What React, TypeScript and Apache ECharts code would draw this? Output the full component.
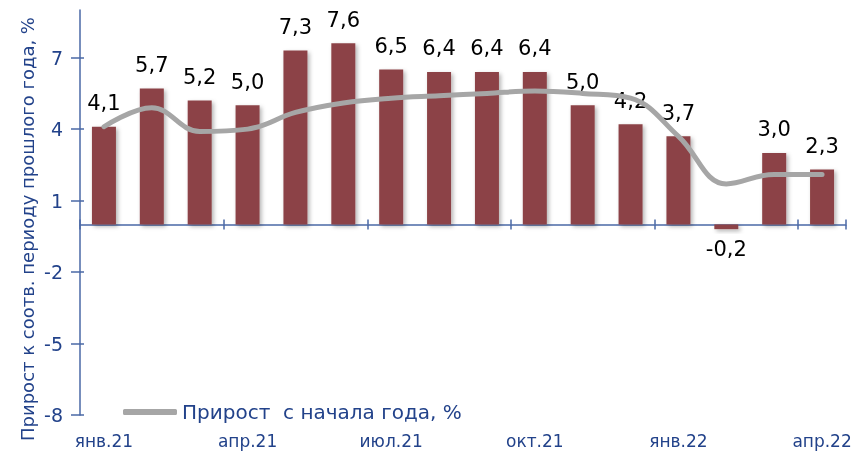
import React, { useEffect, useRef } from "react";
import * as echarts from "echarts";

const categories = [
  "янв.21", "фев.21", "мар.21", "апр.21", "май.21", "июн.21", "июл.21", "авг.21",
  "сен.21", "окт.21", "ноя.21", "дек.21", "янв.22", "фев.22", "мар.22", "апр.22",
];
const yoyValues = [4.1, 5.7, 5.2, 5.0, 7.3, 7.6, 6.5, 6.4, 6.4, 6.4, 5.0, 4.2, 3.7, -0.2, 3.0, 2.3];
const ytdValues = [4.1, 4.9, 3.9, 4.0, 4.7, 5.1, 5.3, 5.4, 5.5, 5.6, 5.5, 5.3, 3.7, 1.7, 2.1, 2.1];
const yTicks = [-8, -5, -2, 1, 4, 7];
const yMin = -8;
const yMax = 9;
const lineName = "Прирост  с начала года, %";
const yAxisTitle = "Прирост к соотв. периоду прошлого года, %";

const BLUE_TEXT = "#22428a";
const AXIS = "#4a68a6";
const FONT = "'DejaVu Sans', Verdana, sans-serif";

export default function App() {
  const ref = useRef<HTMLDivElement>(null);
  useEffect(() => {
    if (!ref.current) return;
    const chart = echarts.init(ref.current, undefined, { renderer: "svg" });
    const fmt = (v: number) => v.toFixed(1).replace(".", ",");
    chart.setOption({
      animation: false,
      grid: { left: 80, right: 12, top: 10, bottom: 37, containLabel: false },
      legend: {
        left: 118,
        top: 397,
        data: [{ name: lineName, icon: "roundRect" }],
        itemWidth: 54,
        itemHeight: 6,
        textStyle: { color: BLUE_TEXT, fontSize: 20, fontFamily: FONT },
      },
      xAxis: [
        {
          type: "category",
          data: categories,
          position: "bottom",
          axisLine: { show: false, onZero: false },
          axisTick: { show: false },
          axisLabel: { interval: 2, margin: 17, color: BLUE_TEXT, fontSize: 17, fontFamily: FONT },
          splitLine: { show: false },
        },
        {
          type: "category",
          data: categories,
          position: "bottom",
          axisLine: { show: true, onZero: true, lineStyle: { color: AXIS, width: 1.5 } },
          axisTick: { show: true, interval: 2, length: 5, lineStyle: { color: AXIS, width: 1.5 } },
          axisLabel: { show: false },
          splitLine: { show: false },
        },
        {
          type: "category",
          data: categories,
          position: "bottom",
          axisLine: { show: false, onZero: true },
          axisTick: { show: true, inside: true, interval: 2, length: 5, lineStyle: { color: AXIS, width: 1.5 } },
          axisLabel: { show: false },
          splitLine: { show: false },
        },
      ],
      yAxis: [
        {
          type: "value",
          min: yMin,
          max: yMax,
          position: "left",
          axisLine: { show: true, onZero: false, lineStyle: { color: AXIS, width: 1.5 } },
          axisTick: { show: true, length: 9, customValues: yTicks, lineStyle: { color: AXIS, width: 1.5 } },
          axisLabel: { customValues: yTicks, margin: 17, color: BLUE_TEXT, fontSize: 19, fontFamily: FONT },
          splitLine: { show: false },
        },
        {
          type: "value",
          min: yMin,
          max: yMax,
          position: "left",
          axisLine: { show: false, onZero: false },
          axisTick: { show: true, inside: true, length: 4, customValues: yTicks, lineStyle: { color: AXIS, width: 1.5 } },
          axisLabel: { show: false },
          splitLine: { show: false },
        },
      ],
      graphic: [
        {
          type: "text",
          x: 27,
          y: 229,
          rotation: Math.PI / 2,
          style: {
            text: yAxisTitle,
            fill: BLUE_TEXT,
            font: `18px ${FONT}`,
            textAlign: "center",
            textVerticalAlign: "middle",
          },
        },
      ],
      series: [
        {
          type: "bar",
          name: "Прирост к соотв. периоду прошлого года, %",
          xAxisIndex: 0,
          yAxisIndex: 0,
          barWidth: 24,
          data: yoyValues.map((v) => ({
            value: v,
            label: v < 0 ? { position: "bottom", distance: 9 } : undefined,
          })),
          itemStyle: {
            color: "#8c4346",
            shadowColor: "rgba(0,0,0,0.3)",
            shadowBlur: 4,
            shadowOffsetX: 2,
            shadowOffsetY: 2,
          },
          label: {
            show: true,
            position: "top",
            distance: 13,
            color: "#000",
            fontSize: 21,
            fontFamily: FONT,
            formatter: (p: any) => fmt(p.value),
          },
          z: 2,
        },
        {
          type: "line",
          name: lineName,
          xAxisIndex: 0,
          yAxisIndex: 0,
          data: ytdValues,
          smooth: 0.4,
          symbol: "none",
          lineStyle: { color: "#a6a6a6", width: 5, cap: "round" },
          itemStyle: { color: "#a6a6a6" },
          z: 3,
        },
      ],
    });
    return () => chart.dispose();
  }, []);
  return (
    <div
      ref={ref}
      style={{ position: "fixed", left: 0, top: 0, width: 858, height: 452 }}
    />
  );
}
